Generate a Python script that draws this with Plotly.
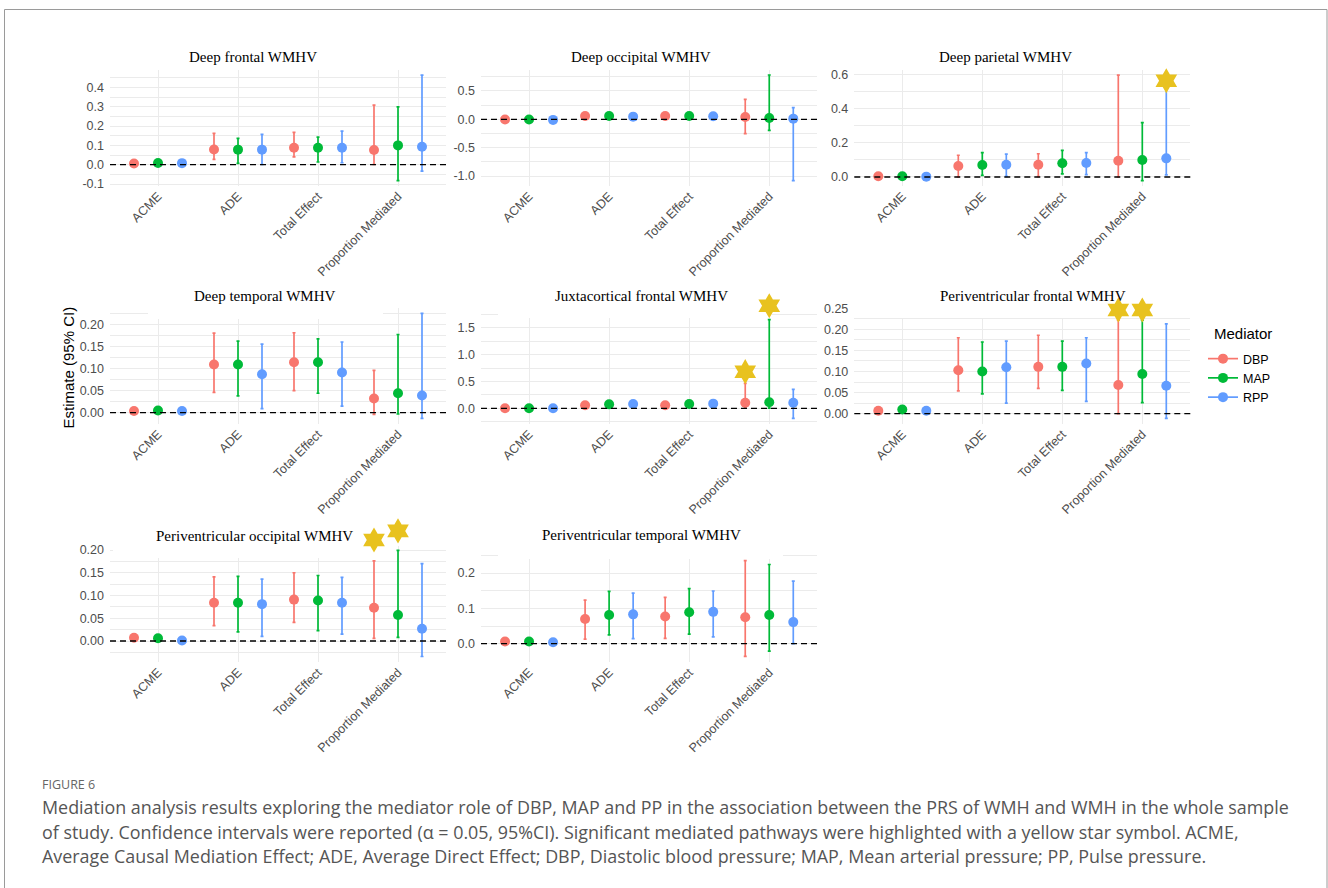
import plotly.graph_objects as go

# ---------------------------------------------------------------- data
categories = ["ACME", "ADE", "Total Effect", "Proportion Mediated"]
mediators = ["DBP", "MAP", "RPP"]
mediator_colors = ["#F8766D", "#00BA38", "#619CFF"]

# Each block: rows = DBP, MAP, RPP ; columns follow `categories`
deep_frontal_est = [[0.006, 0.079, 0.088, 0.076], [0.009, 0.078, 0.088, 0.100], [0.008, 0.078, 0.088, 0.093]]
deep_frontal_lo = [[0.002, 0.028, 0.041, 0.001], [0.004, 0.007, 0.014, -0.083], [0.003, 0.001, 0.010, -0.033]]
deep_frontal_hi = [[0.011, 0.162, 0.167, 0.309], [0.015, 0.136, 0.143, 0.300], [0.014, 0.157, 0.174, 0.464]]

deep_occipital_est = [[-0.003, 0.059, 0.059, 0.040], [-0.002, 0.059, 0.059, 0.024], [-0.010, 0.047, 0.053, 0.012]]
deep_occipital_lo = [[-0.010, 0.030, 0.030, -0.253], [-0.009, 0.030, 0.032, -0.194], [-0.018, 0.015, 0.020, -1.082]]
deep_occipital_hi = [[0.004, 0.090, 0.090, 0.353], [0.005, 0.090, 0.088, 0.782], [-0.002, 0.080, 0.088, 0.206]]

deep_parietal_est = [[0.004, 0.064, 0.072, 0.095], [0.004, 0.070, 0.080, 0.099], [0.002, 0.072, 0.082, 0.109]]
deep_parietal_lo = [[0.001, 0.001, 0.002, 0.000], [0.001, 0.010, 0.018, -0.021], [0.000, 0.004, 0.014, 0.012]]
deep_parietal_hi = [[0.008, 0.127, 0.136, 0.596], [0.008, 0.142, 0.156, 0.318], [0.005, 0.134, 0.142, 0.516]]

deep_temporal_est = [[0.004, 0.109, 0.114, 0.032], [0.005, 0.109, 0.114, 0.044], [0.004, 0.087, 0.091, 0.039]]
deep_temporal_lo = [[0.001, 0.046, 0.050, -0.004], [0.002, 0.038, 0.044, -0.003], [0.001, 0.009, 0.015, -0.013]]
deep_temporal_hi = [[0.008, 0.180, 0.181, 0.096], [0.009, 0.162, 0.167, 0.177], [0.007, 0.155, 0.160, 0.225]]

juxta_frontal_est = [[0.002, 0.056, 0.056, 0.105], [0.002, 0.074, 0.080, 0.112], [0.001, 0.080, 0.087, 0.105]]
juxta_frontal_lo = [[-0.005, 0.020, 0.020, 0.010], [-0.005, 0.035, 0.040, 0.005], [-0.006, 0.040, 0.045, -0.186]]
juxta_frontal_hi = [[0.009, 0.092, 0.092, 0.465], [0.009, 0.113, 0.120, 1.649], [0.008, 0.120, 0.130, 0.353]]

pv_frontal_est = [[0.007, 0.103, 0.111, 0.068], [0.010, 0.100, 0.111, 0.094], [0.007, 0.110, 0.119, 0.066]]
pv_frontal_lo = [[0.003, 0.054, 0.060, 0.000], [0.005, 0.047, 0.055, 0.026], [0.003, 0.025, 0.029, -0.011]]
pv_frontal_hi = [[0.012, 0.180, 0.186, 0.222], [0.015, 0.170, 0.172, 0.222], [0.012, 0.172, 0.180, 0.213]]

pv_occipital_est = [[0.007, 0.084, 0.091, 0.073], [0.006, 0.084, 0.089, 0.057], [0.001, 0.081, 0.084, 0.027]]
pv_occipital_lo = [[0.003, 0.034, 0.041, 0.006], [0.002, 0.020, 0.023, 0.008], [-0.003, 0.010, 0.015, -0.034]]
pv_occipital_hi = [[0.011, 0.141, 0.150, 0.176], [0.010, 0.142, 0.144, 0.199], [0.005, 0.136, 0.140, 0.170]]

pv_temporal_est = [[0.006, 0.070, 0.077, 0.075], [0.006, 0.081, 0.089, 0.081], [0.004, 0.083, 0.090, 0.061]]
pv_temporal_lo = [[0.002, 0.013, 0.015, -0.036], [0.002, 0.025, 0.027, -0.021], [0.000, 0.014, 0.019, 0.000]]
pv_temporal_hi = [[0.010, 0.123, 0.131, 0.235], [0.010, 0.148, 0.156, 0.224], [0.008, 0.143, 0.149, 0.177]]

# significant mediated pathways: (mediator, category, height of the star marker)
deep_parietal_stars = [("RPP", "Proportion Mediated", 0.563)]
juxta_frontal_stars = [("DBP", "Proportion Mediated", 0.682), ("MAP", "Proportion Mediated", 1.909)]
pv_frontal_stars = [("DBP", "Proportion Mediated", 0.246), ("MAP", "Proportion Mediated", 0.246)]
pv_occipital_stars = [("DBP", "Proportion Mediated", 0.222), ("MAP", "Proportion Mediated", 0.242)]

# y-axis breaks per panel
deep_frontal_ticks = [-0.1, 0.0, 0.1, 0.2, 0.3, 0.4]
deep_frontal_ticklabels = ["-0.1", "0.0", "0.1", "0.2", "0.3", "0.4"]
deep_occipital_ticks = [-1.0, -0.5, 0.0, 0.5]
deep_occipital_ticklabels = ["-1.0", "-0.5", "0.0", "0.5"]
deep_parietal_ticks = [0.0, 0.2, 0.4, 0.6]
deep_parietal_ticklabels = ["0.0", "0.2", "0.4", "0.6"]
deep_temporal_ticks = [0.0, 0.05, 0.10, 0.15, 0.20]
deep_temporal_ticklabels = ["0.00", "0.05", "0.10", "0.15", "0.20"]
juxta_frontal_ticks = [0.0, 0.5, 1.0, 1.5]
juxta_frontal_ticklabels = ["0.0", "0.5", "1.0", "1.5"]
pv_frontal_ticks = [0.0, 0.05, 0.10, 0.15, 0.20, 0.25]
pv_frontal_ticklabels = ["0.00", "0.05", "0.10", "0.15", "0.20", "0.25"]
pv_occipital_ticks = [0.0, 0.05, 0.10, 0.15, 0.20]
pv_occipital_ticklabels = ["0.00", "0.05", "0.10", "0.15", "0.20"]
pv_temporal_ticks = [0.0, 0.1, 0.2]
pv_temporal_ticklabels = ["0.0", "0.1", "0.2"]

caption_label = "FIGURE 6"
caption_lines = [
    "Mediation analysis results exploring the mediator role of DBP, MAP and PP in the association between the PRS of WMH and WMH in the whole sample",
    "of study. Confidence intervals were reported (\u03b1 = 0.05, 95%CI). Significant mediated pathways were highlighted with a yellow star symbol. ACME,",
    "Average Causal Mediation Effect; ADE, Average Direct Effect; DBP, Diastolic blood pressure; MAP, Mean arterial pressure; PP, Pulse pressure.",
]

# ---------------------------------------------------------------- layout geometry (pixels)
W, H = 1328, 888
COLS = [(110.0, 446.0), (481.0, 817.3), (854.3, 1190.3)]
ROWS = [(70.0, 185.7), (308.0, 423.6), (546.0, 661.8)]
STAR_HEADROOM = 40.0          # extra pixels above a panel where stars may sit
XR = (0.4, 4.6)
DODGE = [-0.3, 0.0, 0.3]
GRID = "#EBEBEB"
STAR = "#E8C21F"
SANS = "Liberation Sans, Arial, sans-serif"
SERIF = "Liberation Serif, Times New Roman, serif"
CAPTION_FONT = "Open Sans, Lato, sans-serif"


def fx(px):
    return px / W


def fy(py):
    return 1 - py / H


panels = [
    dict(title="Deep frontal WMHV", est=deep_frontal_est, lo=deep_frontal_lo, hi=deep_frontal_hi,
         ticks=deep_frontal_ticks, labels=deep_frontal_ticklabels, yr=(-0.1088, 0.4907), stars=[],
         row=0, col=0, tpos=(252.5, 56.7), mask=None),
    dict(title="Deep occipital WMHV", est=deep_occipital_est, lo=deep_occipital_lo, hi=deep_occipital_hi,
         ticks=deep_occipital_ticks, labels=deep_occipital_ticklabels, yr=(-1.171, 0.870), stars=[],
         row=0, col=1, tpos=(640.5, 56.7), mask=None),
    dict(title="Deep parietal WMHV", est=deep_parietal_est, lo=deep_parietal_lo, hi=deep_parietal_hi,
         ticks=deep_parietal_ticks, labels=deep_parietal_ticklabels, yr=(-0.0509, 0.6254),
         stars=deep_parietal_stars, row=0, col=2, tpos=(1005.0, 56.7), mask=None),
    dict(title="Deep temporal WMHV", est=deep_temporal_est, lo=deep_temporal_lo, hi=deep_temporal_hi,
         ticks=deep_temporal_ticks, labels=deep_temporal_ticklabels, yr=(-0.0247, 0.237), stars=[],
         row=1, col=0, tpos=(265.0, 296.0), mask=(148, 383, 319)),
    dict(title="Juxtacortical frontal WMHV", est=juxta_frontal_est, lo=juxta_frontal_lo, hi=juxta_frontal_hi,
         ticks=juxta_frontal_ticks, labels=juxta_frontal_ticklabels, yr=(-0.284, 1.866),
         stars=juxta_frontal_stars, row=1, col=1, tpos=(641.0, 296.0), mask=(498, 772, 318)),
    dict(title="Periventricular frontal WMHV", est=pv_frontal_est, lo=pv_frontal_lo, hi=pv_frontal_hi,
         ticks=pv_frontal_ticks, labels=pv_frontal_ticklabels, yr=(-0.0236, 0.2506),
         stars=pv_frontal_stars, row=1, col=2, tpos=(1032.5, 296.0), mask=(890, 1157, 318)),
    dict(title="Periventricular occipital WMHV", est=pv_occipital_est, lo=pv_occipital_lo, hi=pv_occipital_hi,
         ticks=pv_occipital_ticks, labels=pv_occipital_ticklabels, yr=(-0.0457, 0.2088),
         stars=pv_occipital_stars, row=2, col=0, tpos=(254.0, 535.7), mask=(113, 397, 558)),
    dict(title="Periventricular temporal WMHV", est=pv_temporal_est, lo=pv_temporal_lo, hi=pv_temporal_hi,
         ticks=pv_temporal_ticks, labels=pv_temporal_ticklabels, yr=(-0.0513, 0.2764), stars=[],
         row=2, col=1, tpos=(641.0, 535.0), mask=(498, 783, 559)),
]

fig = go.Figure()
shapes = []
annotations = []
n_axes = len(panels)

for i, p in enumerate(panels, start=1):
    sfx = "" if i == 1 else str(i)
    xa, ya = f"x{sfx}", f"y{sfx}"
    left, right = COLS[p["col"]]
    top, bottom = ROWS[p["row"]]
    y0, y1 = p["yr"]
    per_px = (y1 - y0) / (bottom - top)

    # minor gridlines half-way between the breaks
    step = p["ticks"][1] - p["ticks"][0]
    minor = [p["ticks"][0] - step / 2] + [t + step / 2 for t in p["ticks"]]

    fig.layout[f"xaxis{sfx}"] = dict(
        domain=[fx(left), fx(right)], anchor=ya, range=list(XR),
        tickmode="array", tickvals=[1, 2, 3, 4], ticktext=categories, tickangle=-45,
        showgrid=True, gridcolor=GRID, gridwidth=1.1, zeroline=False, showline=False, ticks="",
        tickfont=dict(family=SANS, size=12.5, color="#4D4D4D"), fixedrange=True, automargin=False,
    )
    fig.layout[f"yaxis{sfx}"] = dict(
        domain=[fy(bottom), fy(top)], anchor=xa, range=[y0, y1],
        tickmode="array", tickvals=p["ticks"], ticktext=p["labels"],
        showgrid=True, gridcolor=GRID, gridwidth=1.1, zeroline=False, showline=False, ticks="",
        minor=dict(tickvals=minor, showgrid=True, gridcolor=GRID, gridwidth=0.6),
        tickfont=dict(family=SANS, size=12.5, color="#4D4D4D"), fixedrange=True,
        ticklabelstandoff=5, automargin=False,
    )

    # white box behind the panel title, hiding the top of the grid
    if p["mask"] is not None:
        mx0, mx1, mby = p["mask"]
        to_x = lambda px: XR[0] + (px - left) / (right - left) * (XR[1] - XR[0])
        shapes.append(dict(
            type="rect", layer="between", xref=xa, yref=ya,
            x0=to_x(mx0), x1=to_x(mx1),
            y0=y0 + (bottom - mby) * per_px, y1=y1 + (y1 - y0),
            fillcolor="white", line=dict(width=0),
        ))

    # dashed reference line at zero
    shapes.append(dict(
        type="line", xref=f"{xa} domain", yref=ya, x0=0, x1=1, y0=0, y1=0,
        line=dict(color="black", width=1.3, dash="6px,4px"), layer="above",
    ))

    for m, name in enumerate(mediators):
        est, lo, hi = p["est"][m], p["lo"][m], p["hi"][m]
        fig.add_trace(go.Scatter(
            x=[c + 1 + DODGE[m] for c in range(len(categories))], y=est,
            mode="markers", name=name, showlegend=False, cliponaxis=False,
            marker=dict(size=10, color=mediator_colors[m]),
            error_y=dict(type="data", symmetric=False,
                         array=[h - e for h, e in zip(hi, est)],
                         arrayminus=[e - l for e, l in zip(est, lo)],
                         color=mediator_colors[m], thickness=1.7, width=1.5),
            xaxis=xa, yaxis=ya, hoverinfo="skip",
        ))

    # stars live on a hidden twin of the panel's axes with the same scale,
    # stretched upward so that they can sit above the panel's top edge
    if p["stars"]:
        n_axes += 1
        sx, sy = f"x{n_axes}", f"y{n_axes}"
        fig.layout[f"xaxis{n_axes}"] = dict(domain=[fx(left), fx(right)], anchor=sy, range=list(XR),
                                           visible=False, fixedrange=True, automargin=False)
        fig.layout[f"yaxis{n_axes}"] = dict(domain=[fy(bottom), fy(top - STAR_HEADROOM)], anchor=sx,
                                           range=[y0, y1 + STAR_HEADROOM * per_px],
                                           visible=False, fixedrange=True, automargin=False)
        fig.add_trace(go.Scatter(
            x=[categories.index(c) + 1 + DODGE[mediators.index(m)] for m, c, _ in p["stars"]],
            y=[v for _, _, v in p["stars"]],
            mode="markers", showlegend=False, cliponaxis=False,
            marker=dict(symbol="hexagram", size=19, color=STAR, line=dict(width=0)),
            xaxis=sx, yaxis=sy, hoverinfo="skip",
        ))

    annotations.append(dict(
        text=p["title"], xref="paper", yref="paper", x=fx(p["tpos"][0]), y=fy(p["tpos"][1]),
        xanchor="center", yanchor="middle", showarrow=False,
        font=dict(family=SERIF, size=15, color="black"),
    ))

# legend keys
for m, name in enumerate(mediators):
    fig.add_trace(go.Scatter(
        x=[None], y=[None], mode="lines+markers", name=name,
        marker=dict(size=10, color=mediator_colors[m]),
        line=dict(color=mediator_colors[m], width=1.7),
        xaxis="x", yaxis="y",
    ))

# legend heading
annotations.append(dict(
    text="Mediator", xref="paper", yref="paper", x=fx(1212), y=fy(333),
    xanchor="left", yanchor="middle", showarrow=False,
    font=dict(family=SANS, size=15, color="black"),
))

# common y-axis title
annotations.append(dict(
    text="Estimate (95% CI)", xref="paper", yref="paper", x=fx(68), y=fy(367.5),
    xanchor="center", yanchor="middle", textangle=-90, showarrow=False,
    font=dict(family=SANS, size=15, color="black"),
))

# figure caption
annotations.append(dict(
    text=caption_label, xref="paper", yref="paper", x=fx(40), y=fy(784),
    xanchor="left", yanchor="middle", showarrow=False,
    font=dict(family=CAPTION_FONT, size=12.5, color="#666666"),
))
for k, line in enumerate(caption_lines):
    annotations.append(dict(
        text=line, xref="paper", yref="paper", x=fx(40), y=fy(807 + 24.5 * k),
        xanchor="left", yanchor="middle", showarrow=False,
        font=dict(family=CAPTION_FONT, size=17.9, color="#555555"),
    ))

# outer frame
shapes.append(dict(
    type="rect", xref="paper", yref="paper", x0=fx(4.5), x1=fx(1327), y0=-0.02, y1=fy(9.5),
    line=dict(color="#9A9A9A", width=1), fillcolor="rgba(0,0,0,0)", layer="above",
))

fig.update_layout(
    width=W, height=H, autosize=False, margin=dict(l=0, r=0, t=0, b=0, autoexpand=False),
    paper_bgcolor="white", plot_bgcolor="rgba(0,0,0,0)",
    shapes=shapes, annotations=annotations,
    legend=dict(
        x=fx(1203), y=fy(344), xanchor="left", yanchor="top",
        font=dict(family=SANS, size=12.5, color="black"), bgcolor="rgba(0,0,0,0)",
    ),
)

fig.write_html("out.html")
